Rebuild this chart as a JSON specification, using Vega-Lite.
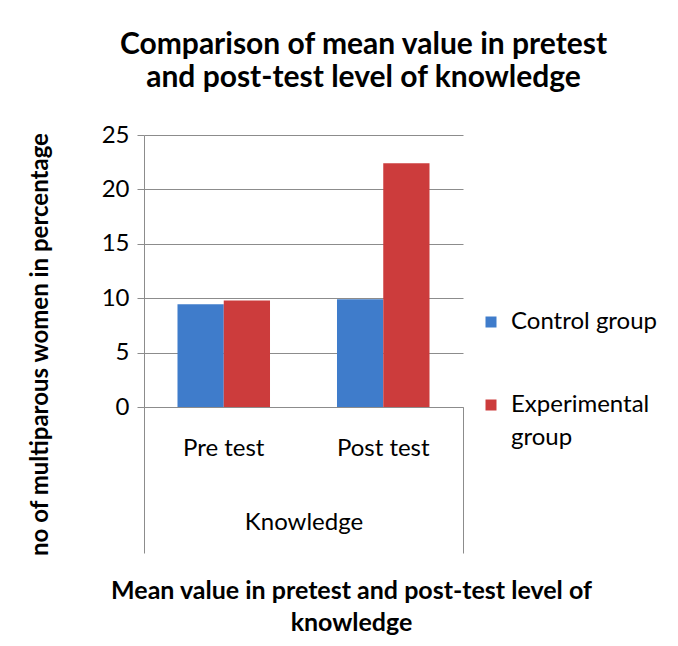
{
  "$schema": "https://vega.github.io/schema/vega-lite/v6.json",
  "width": 319,
  "height": 272,
  "autosize": {"type": "none"},
  "padding": {"left": 144, "top": 135, "right": 215, "bottom": 239},
  "background": "white",
  "title": {
    "text": ["Comparison of mean value in pretest", "and post-test level of knowledge"],
    "font": "Lato",
    "fontSize": 30,
    "fontWeight": "bold",
    "color": "black",
    "anchor": "middle",
    "dx": 60,
    "offset": 30,
    "lineHeight": 33
  },
  "config": {"font": "Lato", "view": {"stroke": null}},
  "layer": [
    {
      "data": {
        "values": [
          {"test": "Pre test", "group": "Control group", "value": 9.45},
          {"test": "Pre test", "group": "Experimental group", "value": 9.8},
          {"test": "Post test", "group": "Control group", "value": 9.9},
          {"test": "Post test", "group": "Experimental group", "value": 22.4}
        ]
      },
      "mark": {"type": "bar"},
      "encoding": {
        "x": {
          "field": "test",
          "type": "nominal",
          "sort": ["Pre test", "Post test"],
          "scale": {"paddingInner": 0.42, "paddingOuter": 0.21},
          "axis": {
            "orient": "bottom",
            "title": null,
            "labelAngle": 0,
            "labelFontSize": 24,
            "labelColor": "black",
            "ticks": false,
            "labelPadding": 29,
            "domainColor": "#8c8c8c",
            "grid": false
          }
        },
        "xOffset": {
          "field": "group",
          "sort": ["Control group", "Experimental group"],
          "scale": {"paddingInner": 0}
        },
        "y": {
          "field": "value",
          "type": "quantitative",
          "scale": {"domain": [0, 25]},
          "axis": {
            "values": [0, 5, 10, 15, 20, 25],
            "title": "no of multiparous women in percentage",
            "titleFontSize": 24,
            "titleFontWeight": "bold",
            "titleColor": "black",
            "titleAngle": -90,
            "titleX": -104,
            "titleY": 209,
            "titleAlign": "center",
            "titleBaseline": "middle",
            "tickSize": 7,
            "tickColor": "#8c8c8c",
            "gridColor": "#8c8c8c",
            "domainColor": "#8c8c8c",
            "labelFontSize": 24,
            "labelColor": "black",
            "labelPadding": 8
          }
        },
        "color": {
          "field": "group",
          "type": "nominal",
          "sort": ["Control group", "Experimental group"],
          "scale": {"range": ["#3f7ccb", "#cc3c3c"]},
          "legend": {
            "title": null,
            "orient": "none",
            "legendX": 335,
            "legendY": 175,
            "symbolType": "square",
            "symbolSize": 121,
            "symbolStrokeWidth": 0,
            "labelFontSize": 24,
            "labelColor": "black",
            "labelLimit": 300,
            "labelOffset": 8,
            "rowPadding": 59,
            "labelExpr": "datum.label == 'Experimental group' ? ['Experimental', 'group'] : datum.label",
            "encode": {
              "labels": {
                "update": {
                  "lineHeight": {"value": 33}
                }
              }
            }
          }
        }
      }
    },
    {
      "data": {"values": [{"level": "Knowledge"}]},
      "mark": {"type": "rule", "opacity": 0},
      "encoding": {
        "x": {
          "field": "level",
          "type": "nominal",
          "scale": {"type": "band", "paddingInner": 0, "paddingOuter": 0},
          "axis": {
            "orient": "bottom",
            "domain": false,
            "tickBand": "extent",
            "tickSize": 146,
            "tickColor": "#8c8c8c",
            "labelAngle": 0,
            "labelFontSize": 24,
            "labelColor": "black",
            "labelPadding": -43,
            "title": ["Mean value in pretest and post-test level of", "knowledge"],
            "titleFontSize": 25,
            "titleFontWeight": "bold",
            "titleColor": "black",
            "titleX": 207,
            "titleY": 171,
            "titleAlign": "center",
            "titleBaseline": "top",
            "titleLineHeight": 32
          }
        }
      }
    }
  ],
  "resolve": {"scale": {"x": "independent"}, "axis": {"x": "independent"}}
}
